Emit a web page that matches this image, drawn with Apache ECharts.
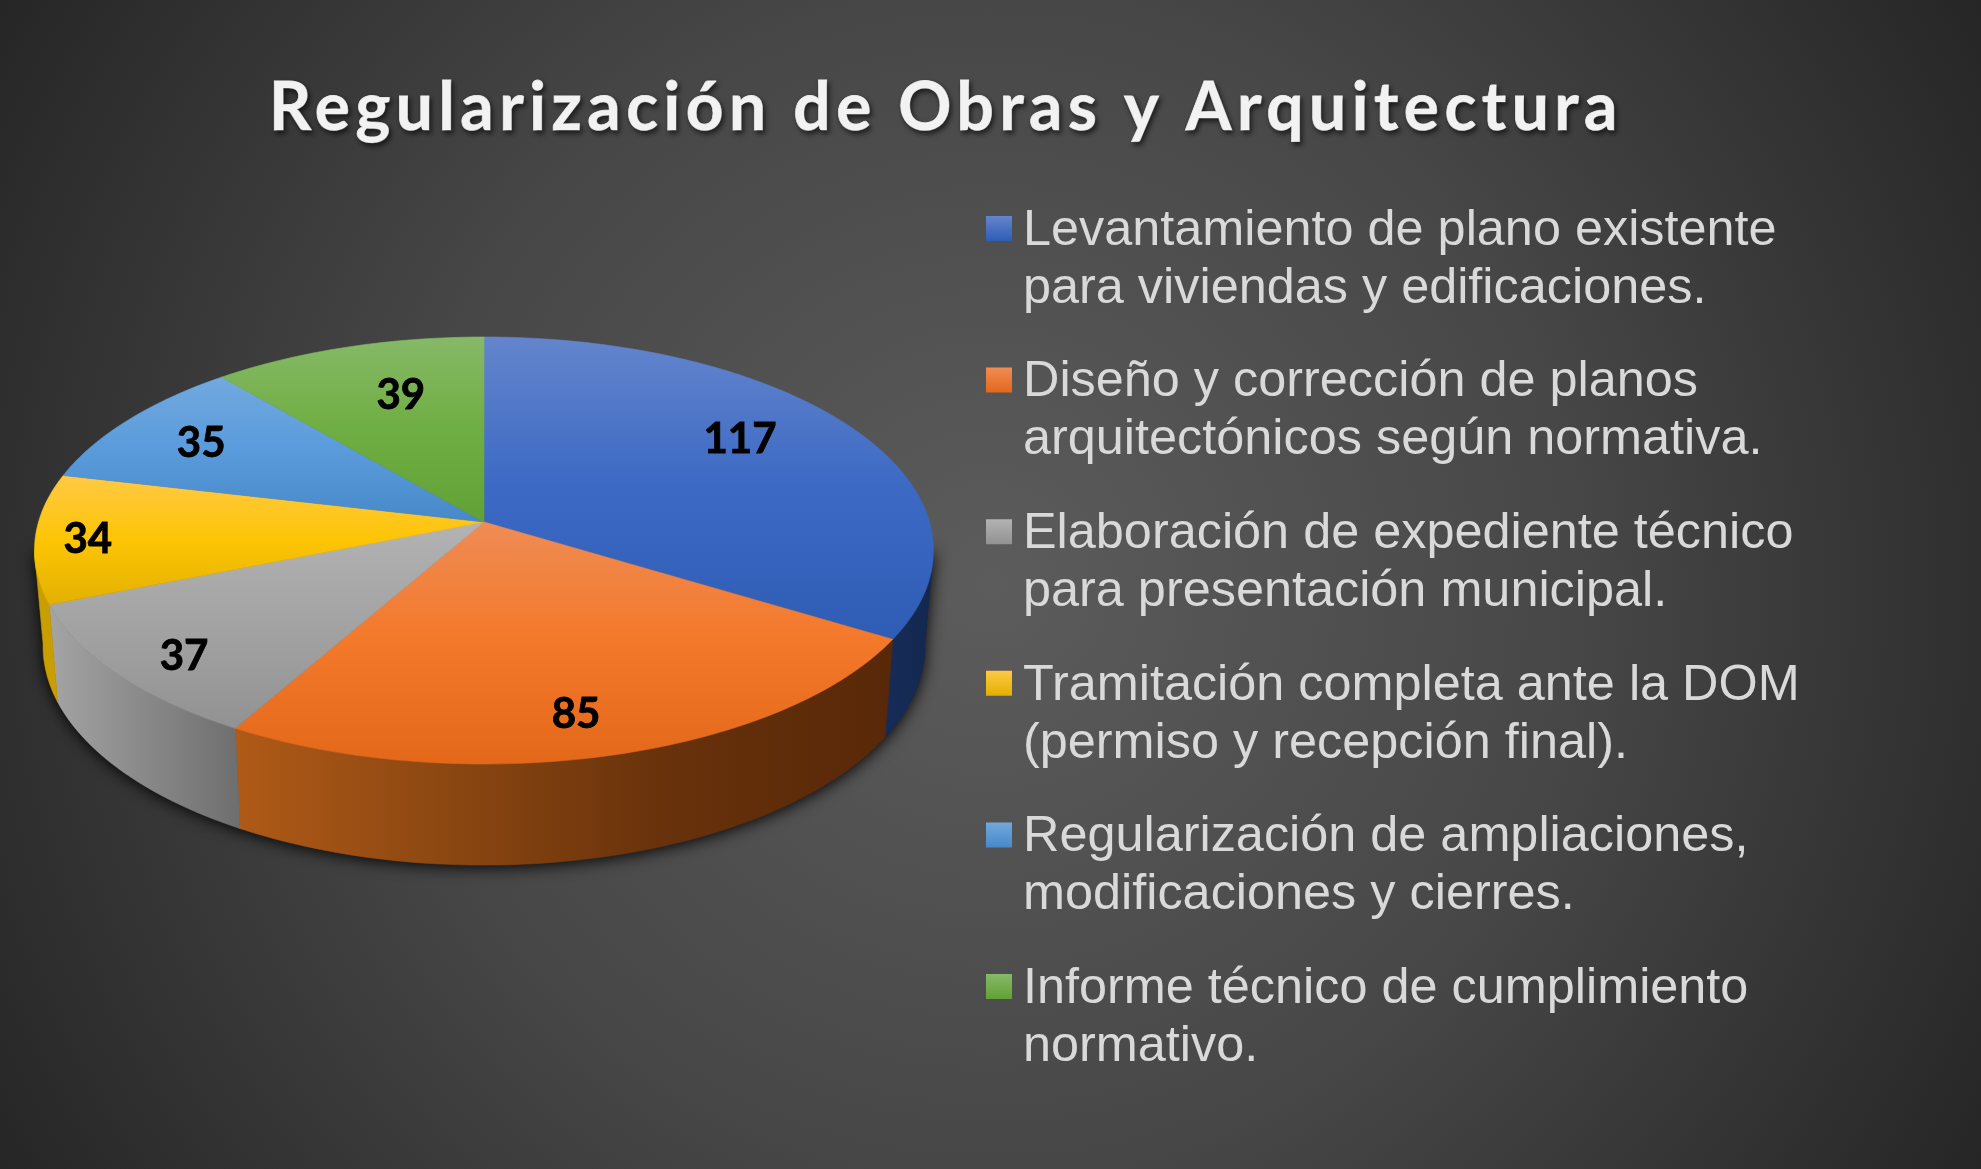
<!DOCTYPE html>
<html><head><meta charset="utf-8">
<style>html,body{margin:0;padding:0;background:#333}#c{width:1981px;height:1169px}</style>
<script src="https://cdn.jsdelivr.net/npm/echarts@6/dist/echarts.min.js"></script>
</head><body><div id="c"></div>
<script>
const titleText = 'Regularización de Obras y Arquitectura';
const categories = [
  'Levantamiento de plano existente\npara viviendas y edificaciones.',
  'Diseño y corrección de planos\narquitectónicos según normativa.',
  'Elaboración de expediente técnico\npara presentación municipal.',
  'Tramitación completa ante la DOM\n(permiso y recepción final).',
  'Regularización de ampliaciones,\nmodificaciones y cierres.',
  'Informe técnico de cumplimiento\nnormativo.'
];
const values = [117, 85, 37, 34, 35, 39];
const topStops = [
  ['#6485cd', '#3b69c4', '#2f5db5'],
  ['#ef8c55', '#f47829', '#e3681a'],
  ['#b3b3b3', '#a3a3a3', '#929292'],
  ['#ffc945', '#fdc505', '#e2b000'],
  ['#72a9de', '#5a9bdc', '#4789c8'],
  ['#86b968', '#6fae42', '#62a135']
];
const sideStops = [
  ['#162c58', '#13284f'],
  ['#b05a17', '#8a4611', '#67310b', '#582808'],
  ['#a4a4a4', '#6e6e6e'],
  ['#c99e00', '#c99e00'],
  ['#3f6f9f', '#3f6f9f'],
  ['#4a7a2a', '#4a7a2a']
];
const labelOffsets = [[-4,-14],[6,36],[-50,31],[-83,6],[-29,-6],[16,0]];

// letter-spacing for the title only (canvas text)
function spaced(orig) {
  return function (t, x, y, m) {
    if (t === titleText) { this.letterSpacing = '5.45px'; orig.call(this, t, x, y); this.letterSpacing = '0px'; return; }
    return m === undefined ? orig.call(this, t, x, y) : orig.call(this, t, x, y, m);
  };
}
const cproto = CanvasRenderingContext2D.prototype;
cproto.fillText = spaced(cproto.fillText);
cproto.strokeText = spaced(cproto.strokeText);

const total = values.reduce((a, b) => a + b, 0);
const P = 0.1335;
const topFace = { cx: 484, cy: 522, ax: 445.5, ay: 209.7 };
const botFace = { cx: 484, cy: 617, ax: 437, ay: 215 };
function proj(face, deg, r) {
  const t = deg * Math.PI / 180, u = r * Math.sin(t), v = r * Math.cos(t), w = 1 + P * v;
  return [face.cx + face.ax * u / w, face.cy - face.ay * v / w];
}
function arc(face, a0, a1) {
  const n = Math.max(2, Math.ceil((a1 - a0) / 1.5)), pts = [];
  for (let i = 0; i <= n; i++) pts.push(proj(face, a0 + (a1 - a0) * i / n, 1));
  return pts;
}
function grad(stops, horizontal) {
  const cs = stops.map((c, i) => ({ offset: i / (stops.length - 1), color: c }));
  return new echarts.graphic.LinearGradient(0, 0, horizontal ? 1 : 0, horizontal ? 0 : 1, cs);
}
function sliceRender(idx) {
  return function (params, api) {
    const val = api.value(0);
    const before = values.slice(0, idx).reduce((a, b) => a + b, 0);
    const a0 = before / total * 360, a1 = a0 + val / total * 360, mid = (a0 + a1) / 2;
    const children = [];
    const t0 = Math.max(a0, 97.7), t1 = Math.min(a1, 262.3);
    const b0 = Math.max(a0, 97), b1 = Math.min(a1, 263);
    if (t1 > t0) {
      const pts = arc(topFace, t0, t1).concat(arc(botFace, b0, b1).reverse());
      const f = grad(sideStops[idx], true);
      children.push({ type: 'polygon', z2: 1, shape: { points: pts }, style: { fill: f, stroke: f, lineWidth: 0.6 } });
    }
    const f = grad(topStops[idx], false);
    children.push({ type: 'polygon', z2: 2, shape: { points: [[topFace.cx, topFace.cy]].concat(arc(topFace, a0, a1)) },
      style: { fill: f, stroke: f, lineWidth: 0.6 } });
    const p = proj(topFace, mid, 0.7);
    children.push({ type: 'text', z2: 3, style: {
      text: String(val), x: p[0] + labelOffsets[idx][0], y: p[1] + labelOffsets[idx][1],
      align: 'center', verticalAlign: 'middle', fill: '#000', stroke: '#000', lineWidth: 0.8,
      font: 'bold 42px Lato' } });
    return { type: 'group', children };
  };
}
const series = [{
  type: 'custom', name: 'base', silent: true, coordinateSystem: 'none', z: 1, data: [[0]],
  renderItem() {
    const ends = proj(topFace, 97.7, 1), ende = proj(topFace, 262.3, 1);
    return { type: 'polygon', shape: { points: arc(botFace, 97, 263).concat([ende, ends]) },
      style: { fill: '#1c1c1c', shadowBlur: 16, shadowColor: 'rgba(0,0,0,0.95)', shadowOffsetY: 2 } };
  }
}];
categories.forEach((name, i) => series.push({
  type: 'custom', name, coordinateSystem: 'none', z: 2, data: [[values[i]]], renderItem: sliceRender(i)
}));
const iconPath = 'path://M0 14H26V39H0ZM0 0L0 0M32 116L32 116';
const chart = echarts.init(document.getElementById('c'));
chart.setOption({
  animation: false,
  backgroundColor: { type: 'radial', x: 0.5, y: 0.5, r: 0.98,
    colorStops: [{ offset: 0, color: '#5c5c5c' }, { offset: 0.51, color: '#474747' }, { offset: 1, color: '#262626' }] },
  title: { text: titleText, left: 946, top: 76, textAlign: 'center', padding: 0,
    textStyle: { fontFamily: 'Lato', fontWeight: 'bold', fontSize: 66, color: '#f2f2f2',
      textBorderColor: '#f2f2f2', textBorderWidth: 0.8,
      textShadowColor: 'rgba(0,0,0,0.6)', textShadowBlur: 5, textShadowOffsetX: 2, textShadowOffsetY: 3 } },
  legend: {
    orient: 'vertical', left: 986, top: 202, padding: 0, itemGap: 35.6, itemWidth: 32, itemHeight: 116,
    selectedMode: false,
    textStyle: { fontFamily: 'Liberation Sans', fontSize: 50.4, lineHeight: 58, color: '#d9d9d9' },
    data: categories.map((name, i) => ({
      name, icon: iconPath,
      itemStyle: { color: new echarts.graphic.LinearGradient(0, 0, 0, 1, [
        { offset: 0, color: topStops[i][0] }, { offset: 0.12, color: topStops[i][0] },
        { offset: 0.336, color: topStops[i][2] }, { offset: 1, color: topStops[i][2] }]) }
    }))
  },
  series
});
</script></body></html>
